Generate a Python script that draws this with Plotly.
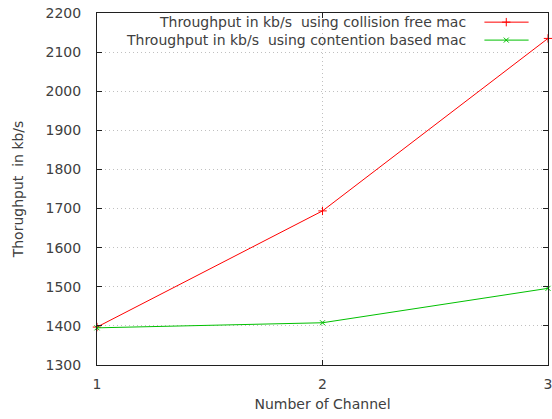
import plotly.graph_objects as go

channels = [1, 2, 3]
collision_free = [1397, 1694, 2135]
contention_based = [1395, 1408, 1496]
series_names = ["Throughput in kb/s  using collision free mac",
                "Throughput in kb/s  using contention based mac"]
y_ticks = [1300, 1400, 1500, 1600, 1700, 1800, 1900, 2000, 2100, 2200]

RED = "rgb(255,0,0)"
GREEN = "rgb(0,192,0)"
FONT = "DejaVu Sans"
TEXT = "#404040"

fig = go.Figure()

fig.add_trace(go.Scatter(
    x=channels, y=collision_free, mode="lines+markers",
    line=dict(color=RED, width=1),
    marker=dict(symbol="cross-thin", size=6, line=dict(color=RED, width=1)),
    showlegend=False, cliponaxis=False))
fig.add_trace(go.Scatter(
    x=channels, y=contention_based, mode="lines+markers",
    line=dict(color=GREEN, width=1),
    marker=dict(symbol="x-thin", size=5, line=dict(color=GREEN, width=1)),
    showlegend=False, cliponaxis=False))

# key in the upper right: right-aligned text with a line sample after it
key_rows = [(0.974, RED, "cross-thin", 6), (0.923, GREEN, "x-thin", 5)]
for (ky, col, sym, sz), name in zip(key_rows, series_names):
    fig.add_annotation(x=0.823, y=ky, xref="paper", yref="paper",
                       text=name, showarrow=False, xanchor="right",
                       yanchor="middle", font=dict(family=FONT, size=14, color=TEXT))
    fig.add_shape(type="line", xref="paper", yref="paper",
                  x0=0.859, x1=0.957, y0=ky, y1=ky, line=dict(color=col, width=1))
    fig.add_trace(go.Scatter(
        x=[0.9075], y=[ky], xaxis="x2", yaxis="y2", mode="markers",
        marker=dict(symbol=sym, size=sz, line=dict(color=col, width=1)),
        showlegend=False, hoverinfo="skip"))

fig.update_layout(
    width=552, height=419,
    margin=dict(l=97, r=4, t=13, b=54),
    paper_bgcolor="white", plot_bgcolor="white",
    font=dict(family=FONT, size=14, color=TEXT),
    xaxis=dict(
        range=[1, 3], tickvals=channels, ticktext=[str(c) for c in channels],
        showgrid=True, gridcolor="#c0c0c0", griddash="1px,3px", gridwidth=1,
        showline=True, linecolor="#202020", linewidth=1, mirror="ticks",
        ticks="inside", ticklen=5, tickcolor="#202020",
        ticklabelstandoff=6, ticklabeloverflow="allow",
        zeroline=False, automargin=False,
        title=dict(text="Number of Channel", standoff=8, font=dict(size=14)),
    ),
    yaxis=dict(
        range=[1300, 2200], tickvals=y_ticks,
        showgrid=True, gridcolor="#c0c0c0", griddash="1px,3px", gridwidth=1,
        showline=True, linecolor="#202020", linewidth=1, mirror="ticks",
        ticks="inside", ticklen=5, tickcolor="#202020",
        ticklabelstandoff=12,
        zeroline=False, automargin=False,
        title=dict(text="Thorughput  in kb/s", standoff=18, font=dict(size=14)),
    ),
    xaxis2=dict(domain=[0, 1], range=[0, 1], overlaying="x", visible=False,
                fixedrange=True),
    yaxis2=dict(domain=[0, 1], range=[0, 1], overlaying="y", visible=False,
                fixedrange=True),
)

fig.write_html("out.html")
